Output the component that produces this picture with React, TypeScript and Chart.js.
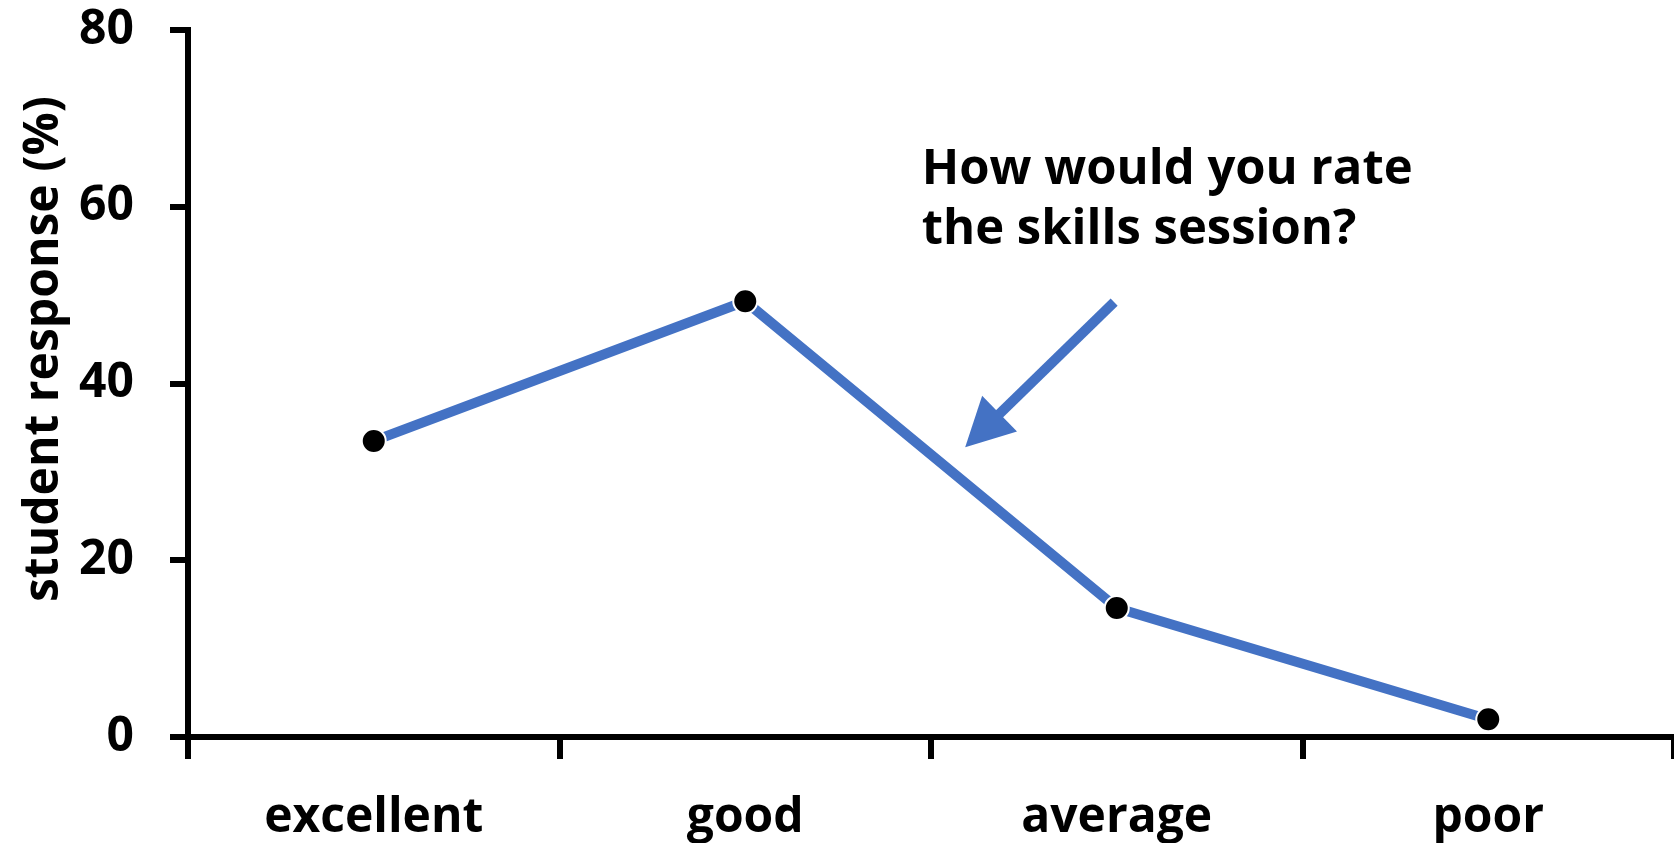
import React, { useEffect, useRef } from 'react';
import { Chart, registerables } from 'chart.js';

Chart.register(...registerables);

// ---- data ----
const categories = ['excellent', 'good', 'average', 'poor'];
const responses = [33.5, 49.3, 14.6, 2.0];
const yTickValues = [0, 20, 40, 60, 80];
const yAxisTitle = 'student response (%)';
const annotationLines = ['How would you rate', 'the skills session?'];

// annotation placement in data units (category index, value)
const textAnchor = { x: 1.475, y: 62.6, lineStep: 6.8 };
const arrowTail = { x: 1.993, y: 49.2 };
const arrowTip = { x: 1.592, y: 32.8 };
const yTitleCenterValue = 43.9;

const FONT = "'Open Sans', sans-serif";
const BLUE = '#4472C4';

const annotationPlugin = {
  id: 'annotationPlugin',
  afterDraw(chart: any) {
    const ctx = chart.ctx as CanvasRenderingContext2D;
    const xs = chart.scales.x;
    const ys = chart.scales.y;
    ctx.save();
    // question text
    ctx.fillStyle = '#000';
    ctx.font = `bold 49px ${FONT}`;
    ctx.textAlign = 'left';
    ctx.textBaseline = 'alphabetic';
    annotationLines.forEach((line, i) => {
      ctx.fillText(
        line,
        xs.getPixelForValue(textAnchor.x),
        ys.getPixelForValue(textAnchor.y - i * textAnchor.lineStep)
      );
    });
    // arrow
    const x1 = xs.getPixelForValue(arrowTail.x);
    const y1 = ys.getPixelForValue(arrowTail.y);
    const x2 = xs.getPixelForValue(arrowTip.x);
    const y2 = ys.getPixelForValue(arrowTip.y);
    const ang = Math.atan2(y2 - y1, x2 - x1);
    const headLen = 48;
    const headHalf = 25;
    const bx = x2 - headLen * Math.cos(ang);
    const by = y2 - headLen * Math.sin(ang);
    ctx.strokeStyle = BLUE;
    ctx.lineWidth = 10;
    ctx.lineCap = 'butt';
    ctx.beginPath();
    ctx.moveTo(x1, y1);
    ctx.lineTo(bx + 2 * Math.cos(ang), by + 2 * Math.sin(ang));
    ctx.stroke();
    ctx.fillStyle = BLUE;
    ctx.beginPath();
    ctx.moveTo(x2, y2);
    ctx.lineTo(bx + headHalf * Math.sin(ang), by - headHalf * Math.cos(ang));
    ctx.lineTo(bx - headHalf * Math.sin(ang), by + headHalf * Math.cos(ang));
    ctx.closePath();
    ctx.fill();
    // y axis title
    ctx.fillStyle = '#000';
    ctx.font = `bold 48px ${FONT}`;
    ctx.textAlign = 'center';
    ctx.textBaseline = 'middle';
    ctx.translate(44, ys.getPixelForValue(yTitleCenterValue));
    ctx.rotate(-Math.PI / 2);
    ctx.fillText(yAxisTitle, 0, 0);
    ctx.restore();
  },
};

export default function App() {
  const canvasRef = useRef<HTMLCanvasElement | null>(null);

  useEffect(() => {
    const canvas = canvasRef.current;
    if (!canvas) return;
    const chart = new Chart(canvas, {
      type: 'line',
      data: {
        labels: categories,
        datasets: [
          {
            data: responses,
            borderColor: BLUE,
            borderWidth: 10,
            backgroundColor: '#000',
            pointBackgroundColor: '#000',
            pointBorderColor: '#fff',
            pointBorderWidth: 2,
            pointRadius: 12,
            tension: 0,
            fill: false,
          },
        ],
      },
      options: {
        responsive: false,
        animation: false,
        events: [],
        layout: { autoPadding: false, padding: { top: 30, left: 0, right: 0, bottom: 0 } },
        plugins: {
          legend: { display: false },
          tooltip: { enabled: false },
          title: { display: false },
        },
        scales: {
          x: {
            type: 'category',
            offset: true,
            afterFit(scale: any) {
              scale.height = 106;
              scale.paddingLeft = 0;
              scale.paddingRight = 0;
            },
            border: { display: true, color: '#000', width: 6 },
            grid: {
              offset: true,
              drawOnChartArea: false,
              drawTicks: true,
              tickLength: 22,
              color: '#000',
              lineWidth: 6,
            },
            ticks: {
              color: '#000',
              font: { family: FONT, size: 48, weight: 'bold' },
              padding: 31,
              maxRotation: 0,
              autoSkip: false,
            },
          },
          y: {
            min: 0,
            max: 80,
            afterFit(scale: any) {
              scale.width = 188;
              scale.paddingTop = 0;
              scale.paddingBottom = 0;
            },
            afterBuildTicks(scale: any) {
              scale.ticks = yTickValues.map((v) => ({ value: v }));
            },
            border: { display: true, color: '#000', width: 6 },
            grid: {
              drawOnChartArea: false,
              drawTicks: true,
              tickLength: 18,
              color: '#000',
              lineWidth: 6,
            },
            ticks: {
              color: '#000',
              font: { family: FONT, size: 48, weight: 'bold' },
              padding: 36,
            },
          },
        },
      },
      plugins: [annotationPlugin],
    });
    return () => chart.destroy();
  }, []);

  return (
    <div style={{ position: 'fixed', left: 0, top: 0, width: 1674, height: 843, background: '#fff' }}>
      <canvas ref={canvasRef} width={1674} height={843} style={{ display: 'block' }} />
    </div>
  );
}
